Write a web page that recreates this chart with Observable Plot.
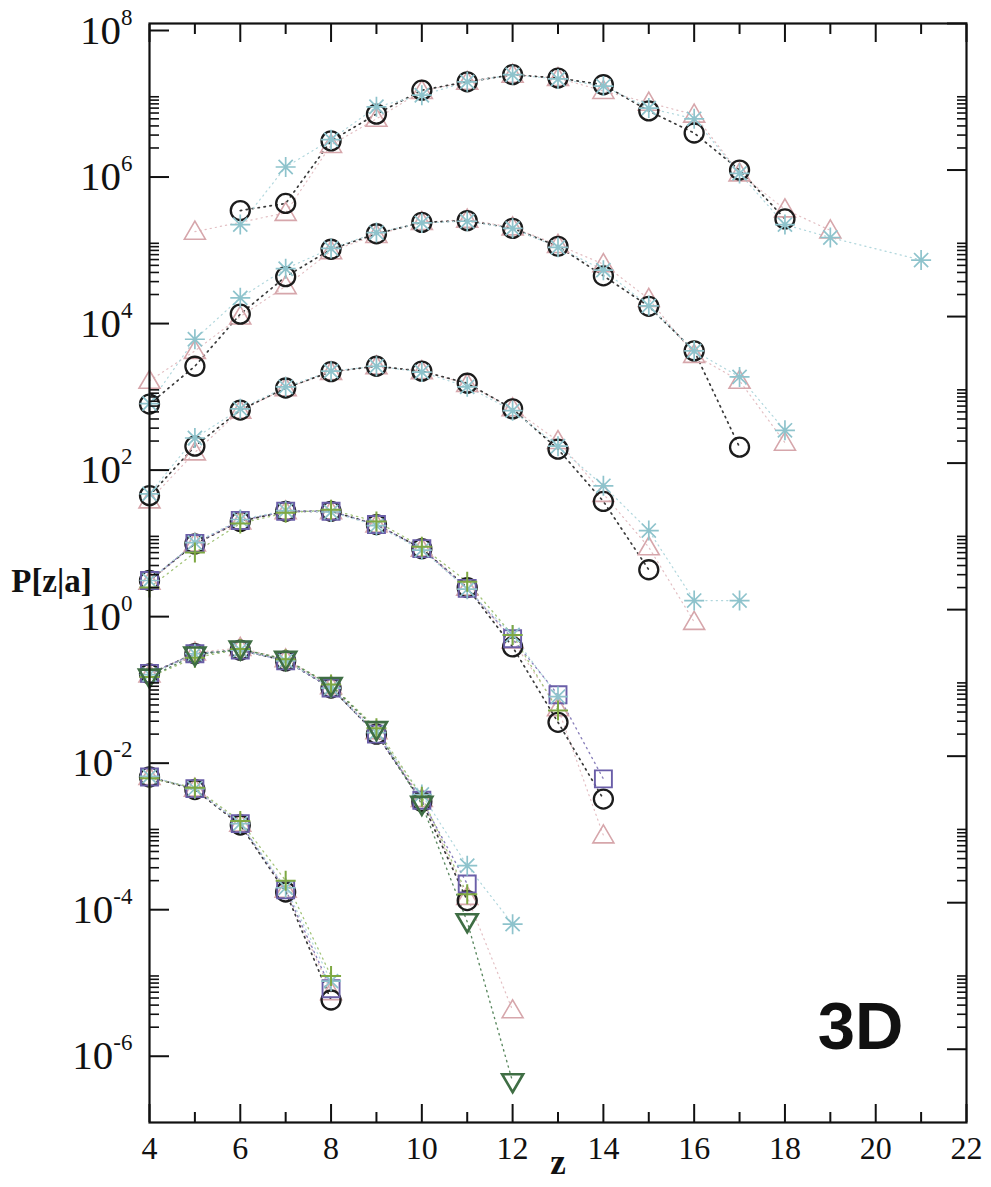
<!DOCTYPE html>
<html>
<head>
<meta charset="utf-8">
<script src="https://cdn.jsdelivr.net/npm/d3@7"></script>
<script src="https://cdn.jsdelivr.net/npm/@observablehq/plot@0.6"></script>
<style>
  html, body { margin: 0; padding: 0; background: #fff; }
  #chart { width: 991px; height: 1187px; }
</style>
</head>
<body>
<div id="chart"></div>
<script>
// ---------- data ----------
const g1Z = [5,6,7,8,9,10,11,12,13,14,15,16,17,18,19,20,21];
const g1Circle   = [null,2.8e5,3.5e5,2.5e6,5.8e6,1.23e7,1.6e7,2.0e7,1.8e7,1.46e7,6.4e6,3.2e6,1.0e6,2.15e5,null,null,null];
const g1Triangle = [1.44e5,null,2.6e5,2.2e6,5.0e6,1.2e7,1.6e7,2.0e7,1.8e7,1.2e7,8.3e6,5.7e6,9e5,2.9e5,1.5e5,null,null];
const g1Star     = [null,1.8e5,1.1e6,2.6e6,7.3e6,1.05e7,1.6e7,2.0e7,1.75e7,1.4e7,7e6,5e6,9e5,1.8e5,1.2e5,null,5.9e4];

const g2Z = [4,5,6,7,8,9,10,11,12,13,14,15,16,17,18];
const g2Circle   = [6.4e2,2.1e3,1.08e4,3.5e4,8.3e4,1.35e5,1.93e5,2.04e5,1.6e5,9.1e4,3.6e4,1.38e4,3.4e3,1.65e2,null];
const g2Triangle = [1.33e3,3.4e3,1.0e4,2.6e4,7.8e4,1.3e5,1.95e5,2.1e5,1.65e5,9.5e4,5.2e4,1.74e4,3.0e3,1.33e3,1.9e2];
const g2Star     = [6.5e2,4.9e3,1.8e4,4.5e4,8.5e4,1.4e5,1.9e5,2.0e5,1.6e5,8.8e4,4.3e4,1.4e4,3.4e3,1.5e3,2.8e2];

const g3Z = [4,5,6,7,8,9,10,11,12,13,14,15,16,17];
const g3Circle   = [36,170,530,1060,1770,2100,1800,1230,550,155,30,3.5,null,null];
const g3Triangle = [31,140,520,1050,1750,2100,1800,1200,560,200,38,7.1,0.68,null];
const g3Star     = [38,220,550,1100,1800,2100,1750,1100,520,170,49,12,1.33,1.33];

const g4Z = [4,5,6,7,8,9,10,11,12,13,14];
const g4Circle   = [2.5,7.9,16,22,22,14.5,6.8,2.0,0.31,0.029,2.6e-3];
const g4Square   = [2.5,8.0,16.5,22,22,14.5,6.8,1.95,0.40,0.069,4.9e-3];
const g4Plus     = [2.0,6.0,15,21,23,16,7.2,2.4,0.45,0.042,null];
const g4Triangle = [2.4,8,16,22,22,14.5,6.8,2.0,0.38,0.045,8.3e-4];
const g4Star     = [2.5,8.2,17,22.5,21.5,14,6.5,1.9,0.45,0.065,null];

const g5Z = [4,5,6,7,8,9,10,11,12];
const g5Circle   = [0.133,0.25,0.28,0.20,0.085,0.020,2.4e-3,1.07e-4,null];
const g5Square   = [0.135,0.25,0.28,0.20,0.085,0.020,2.5e-3,1.8e-4,null];
const g5Plus     = [0.12,0.22,0.29,0.21,0.095,0.024,2.8e-3,1.3e-4,null];
const g5DownTri  = [0.12,0.24,0.29,0.21,0.092,0.023,2.2e-3,5.5e-5,3.6e-7];
const g5Triangle = [0.13,0.26,0.30,0.21,0.09,0.022,2.6e-3,1.2e-4,3.4e-6];
const g5Star     = [0.13,0.25,0.28,0.20,0.085,0.021,3.0e-3,3.2e-4,5.1e-5];

const g6Z = [4,5,6,7,8];
const g6Circle   = [5.2e-3,3.5e-3,1.15e-3,1.4e-4,4.7e-6];
const g6Square   = [5.2e-3,3.6e-3,1.2e-3,1.5e-4,6.7e-6];
const g6Plus     = [5.0e-3,3.7e-3,1.3e-3,2.0e-4,1.0e-5];
const g6Triangle = [5.2e-3,3.6e-3,1.2e-3,1.5e-4,6.0e-6];
const g6Star     = [5.3e-3,3.6e-3,1.2e-3,1.6e-4,8.5e-6];

const xMajorTicks = [4,6,8,10,12,14,16,18,20,22];
const xMinorTicks = [5,7,9,11,13,15,17,19,21];
const yMajorExponents = [-6,-4,-2,0,2,4,6,8];
const yMinorMultipliers = [2,3,4,5,6,7,8,9,10];

// ---------- tidy rows ----------
const rows = [];
function add(group, zs, series, vals) {
  zs.forEach((z, i) => { if (vals[i] != null) rows.push({group, series, z, v: vals[i]}); });
}
add("g1", g1Z, "circle", g1Circle); add("g1", g1Z, "triangle", g1Triangle); add("g1", g1Z, "star", g1Star);
add("g2", g2Z, "circle", g2Circle); add("g2", g2Z, "triangle", g2Triangle); add("g2", g2Z, "star", g2Star);
add("g3", g3Z, "circle", g3Circle); add("g3", g3Z, "triangle", g3Triangle); add("g3", g3Z, "star", g3Star);
add("g4", g4Z, "circle", g4Circle); add("g4", g4Z, "square", g4Square); add("g4", g4Z, "plus", g4Plus);
add("g4", g4Z, "triangle", g4Triangle); add("g4", g4Z, "star", g4Star);
add("g5", g5Z, "circle", g5Circle); add("g5", g5Z, "square", g5Square); add("g5", g5Z, "plus", g5Plus);
add("g5", g5Z, "downtri", g5DownTri); add("g5", g5Z, "triangle", g5Triangle); add("g5", g5Z, "star", g5Star);
add("g6", g6Z, "circle", g6Circle); add("g6", g6Z, "square", g6Square); add("g6", g6Z, "plus", g6Plus);
add("g6", g6Z, "triangle", g6Triangle); add("g6", g6Z, "star", g6Star);

// ---------- symbols & styles ----------
const symTriangle = {draw(c) { c.moveTo(0,-10.5); c.lineTo(10.5,7.5); c.lineTo(-10.5,7.5); c.closePath(); }};
const symDownTri  = {draw(c) { c.moveTo(0,10.5); c.lineTo(10.5,-7.5); c.lineTo(-10.5,-7.5); c.closePath(); }};
const symSquare   = {draw(c) { c.moveTo(-8.5,-8.5); c.lineTo(8.5,-8.5); c.lineTo(8.5,8.5); c.lineTo(-8.5,8.5); c.closePath(); }};
const symStar     = {draw(c) { const r = 10, d = 7.07;
  c.moveTo(-r,0); c.lineTo(r,0); c.moveTo(0,-r); c.lineTo(0,r);
  c.moveTo(-d,-d); c.lineTo(d,d); c.moveTo(-d,d); c.lineTo(d,-d); }};
const symPlus     = {draw(c) { const r = 10; c.moveTo(-r,0); c.lineTo(r,0); c.moveTo(0,-r); c.lineTo(0,r); }};

const styles = {
  triangle: {color: "#d6a6ab", line: "#e3bfc3", symbol: symTriangle, sw: 1.6, lw: 1.2, dash: "1.2,4"},
  circle:   {color: "#1c1c1c", line: "#3a3a3a", symbol: "circle", r: 9.5, sw: 2.3, lw: 1.7, dash: "1.4,4.6"},
  square:   {color: "#6a5ea8", line: "#8a80bb", symbol: symSquare, sw: 1.9, lw: 1.4, dash: "1.3,4.3"},
  star:     {color: "#8ec3cc", line: "#b1d7dd", symbol: symStar, sw: 1.7, lw: 1.2, dash: "1.2,4"},
  plus:     {color: "#7ea842", line: "#a3c47a", symbol: symPlus, sw: 2.0, lw: 1.3, dash: "1.3,4.3"},
  downtri:  {color: "#3f6e44", line: "#5d8a62", symbol: symDownTri, sw: 2.6, lw: 1.4, dash: "1.3,4.3"}
};
const order = ["triangle", "circle", "square", "star", "plus", "downtri"];

const lineMarks = order.map(s => Plot.line(rows.filter(d => d.series === s), {
  x: "z", y: "v", z: "group", stroke: styles[s].line,
  strokeWidth: styles[s].lw, strokeDasharray: styles[s].dash
}));
const dotMarks = order.map(s => Plot.dot(rows.filter(d => d.series === s), {
  x: "z", y: "v", symbol: styles[s].symbol, r: styles[s].r || 9,
  stroke: styles[s].color, fill: "none", strokeWidth: styles[s].sw
}));

const yMajor = yMajorExponents.map(e => Math.pow(10, e));
const yMinor = [];
for (const e of [-8,-6,-4,-2,0,2,4,6]) for (const k of yMinorMultipliers) {
  const v = k * Math.pow(10, e);
  if (v > 1.0001e-7 && v < 0.9999e8) yMinor.push(v);
}
const blank = () => "";

const plot = Plot.plot({
  width: 991, height: 1187,
  marginLeft: 149, marginRight: 25, marginTop: 23, marginBottom: 65,
  style: {fontFamily: "'Liberation Serif', 'Times New Roman', serif", background: "#fff", color: "#111"},
  x: {domain: [4, 22]},
  y: {type: "log", domain: [1e-7, 1e8]},
  marks: [
    ...lineMarks,
    ...dotMarks,
    Plot.axisX({anchor: "bottom", ticks: xMajorTicks, tickSize: -18, tickPadding: 32, fontSize: 32, label: null, tickFormat: d => String(d), strokeWidth: 2}),
    Plot.axisX({anchor: "bottom", ticks: xMinorTicks, tickSize: -10, tickFormat: blank, label: null, strokeWidth: 2}),
    Plot.axisX({anchor: "top", ticks: xMajorTicks, tickSize: -18, tickFormat: blank, label: null, strokeWidth: 2}),
    Plot.axisX({anchor: "top", ticks: xMinorTicks, tickSize: -10, tickFormat: blank, label: null, strokeWidth: 2}),
    Plot.axisY({anchor: "left", ticks: yMajor, tickSize: -20, tickPadding: 37, fontSize: 41, dy: 7, label: null,
                tickFormat: d => String(Math.round(Math.log10(d))), strokeWidth: 2}),
    Plot.axisY({anchor: "left", ticks: yMinor, tickSize: -10, tickFormat: blank, label: null, strokeWidth: 1.6}),
    Plot.axisY({anchor: "right", ticks: yMajor, tickSize: -20, tickFormat: blank, label: null, strokeWidth: 2}),
    Plot.axisY({anchor: "right", ticks: yMinor, tickSize: -10, tickFormat: blank, label: null, strokeWidth: 1.6}),
    Plot.frame({stroke: "#111", strokeWidth: 2.2}),
    Plot.text(["P[z|a]"], {text: d => d, frameAnchor: "left", dx: -98, dy: 8, fontWeight: "bold", fontSize: 33, textAnchor: "middle"}),
    Plot.text(["z"], {text: d => d, frameAnchor: "bottom", dy: 51, fontWeight: "bold", fontSize: 35}),
    Plot.text(["3D"], {text: d => d, frameAnchor: "bottom-right", dx: -63, dy: -74, textAnchor: "end",
                       fontFamily: "'Liberation Sans', Arial, sans-serif", fontWeight: "bold", fontSize: 67})
  ]
});

// superscript exponents on the y tick labels
plot.querySelectorAll('g[aria-label="y-axis tick label"] text').forEach(t => {
  const e = t.textContent;
  if (!e) return;
  t.textContent = "10";
  const ts = document.createElementNS("http://www.w3.org/2000/svg", "tspan");
  ts.setAttribute("dy", "-19");
  ts.setAttribute("font-size", "23");
  ts.textContent = e;
  t.appendChild(ts);
});

document.getElementById("chart").appendChild(plot);
</script>
</body>
</html>
